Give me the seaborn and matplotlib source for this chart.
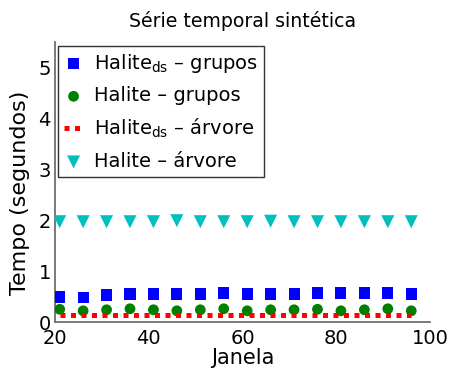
import numpy as np
import pandas as pd
import matplotlib
matplotlib.use("Agg")
import matplotlib.pyplot as plt
import seaborn as sns

janela = [21, 26, 31, 36, 41, 46, 51, 56, 61, 66, 71, 76, 81, 86, 91, 96]
halite_ds_grupos = [0.49, 0.48, 0.53, 0.55, 0.55, 0.55, 0.55, 0.57, 0.55, 0.55, 0.55, 0.57, 0.57, 0.57, 0.57, 0.55]
halite_grupos = [0.25, 0.22, 0.24, 0.26, 0.24, 0.22, 0.24, 0.26, 0.22, 0.24, 0.24, 0.25, 0.22, 0.24, 0.26, 0.22]
halite_ds_arvore = [0.145] * 16
halite_arvore = [1.97, 1.97, 1.97, 1.97, 1.97, 1.99, 1.97, 1.97, 1.97, 1.98, 1.97, 1.97, 1.97, 1.97, 1.97, 1.97]

labels = [r"Halite$_{\mathrm{ds}}$ – grupos", "Halite – grupos",
          r"Halite$_{\mathrm{ds}}$ – árvore", "Halite – árvore"]
title = "Série temporal sintética"
xlabel = "Janela"
ylabel = "Tempo (segundos)"

sns.set_style("white")
plt.rcParams["font.family"] = ["DejaVu Sans"]
plt.rcParams["mathtext.fontset"] = "dejavusans"
plt.rcParams["text.color"] = "black"
plt.rcParams["axes.labelcolor"] = "black"
plt.rcParams["xtick.labelcolor"] = "black"
plt.rcParams["ytick.labelcolor"] = "black"

df = pd.DataFrame({"x": janela, "a": halite_ds_grupos, "b": halite_grupos,
                   "c": halite_ds_arvore, "d": halite_arvore})

fig = plt.figure(figsize=(4.49, 3.69), dpi=100)
ax = fig.add_axes([55/449, 1 - 322/369, 375/449, 280/369])

sns.scatterplot(data=df, x="x", y="a", marker="s", s=64, color="#0000ff",
                edgecolor="none", ax=ax, label=labels[0], zorder=3)
sns.scatterplot(data=df, x="x", y="b", marker="o", s=60, color="#008000",
                edgecolor="none", ax=ax, label=labels[1], zorder=3)
sns.lineplot(data=df, x="x", y="c", color="#ff0000", lw=3.6,
             linestyle=(0, (1, 1.1)), ax=ax, label=labels[2], zorder=4)
sns.scatterplot(data=df, x="x", y="d", marker="v", s=88, color="#00bfbf",
                edgecolor="none", ax=ax, label=labels[3], zorder=3)
for l in ax.lines:
    l.set_dash_capstyle("butt")

ax.set_xlim(20, 100)
ax.set_ylim(0, 5.5)
ax.set_xticks([20, 40, 60, 80, 100])
ax.set_yticks([0, 1, 2, 3, 4, 5])
ax.set_title(title, fontsize=13.6, pad=11, color="black")
ax.set_xlabel(xlabel, fontsize=15, labelpad=0)
ax.set_ylabel(ylabel, fontsize=16)
ax.yaxis.set_label_coords(-0.066, 0.46)
ax.tick_params(axis="both", direction="in", length=3, width=1, color="#707070",
               labelsize=14, labelcolor="black")
ax.tick_params(axis="x", pad=5)
ax.tick_params(axis="y", pad=3)
for side in ["top", "right"]:
    ax.spines[side].set_visible(False)
for side in ["left", "bottom"]:
    ax.spines[side].set_color("#707070")
    ax.spines[side].set_linewidth(1.3)

leg = ax.legend(loc="upper left", bbox_to_anchor=(0.008, 0.986), borderaxespad=0,
                fontsize=14, frameon=True, fancybox=False, edgecolor="black",
                handlelength=1.0, handletextpad=0.55, labelspacing=0.6,
                borderpad=0.3, markerscale=1.0)
leg.get_frame().set_linewidth(1.0)
for t in leg.get_texts():
    t.set_color("black")

fig.savefig("out.png", dpi=100)
